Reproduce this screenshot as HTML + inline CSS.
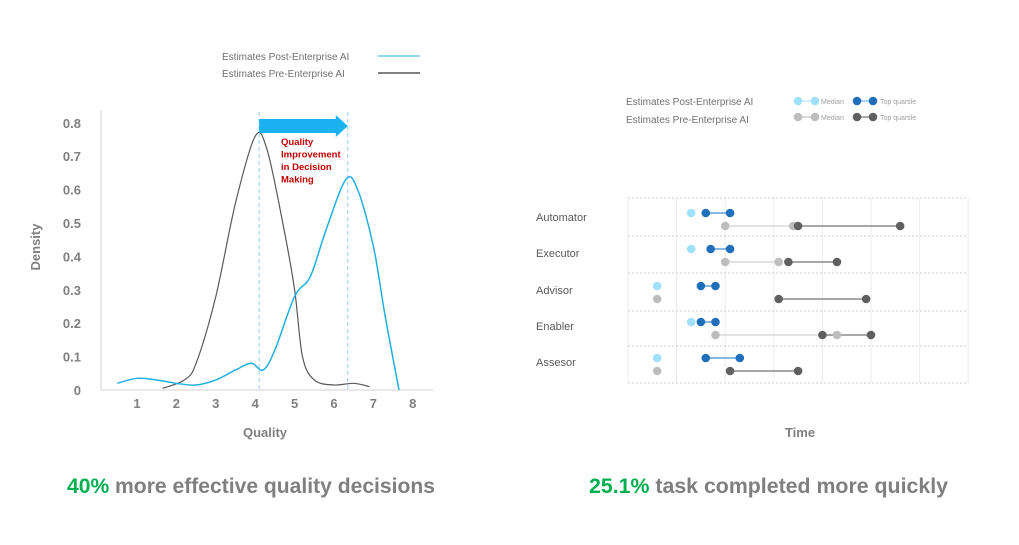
<!DOCTYPE html>
<html><head><meta charset="utf-8"><style>
body{margin:0;background:#fff;}
svg{display:block;font-family:"Liberation Sans",sans-serif;}
</style></head><body>
<svg id="root" width="1019" height="545" viewBox="0 0 1019 545">
<g id="left"></g>
<g id="right"></g>
<text x="67" y="493" font-size="21" font-weight="bold" textLength="368" lengthAdjust="spacingAndGlyphs"><tspan fill="#00b050">40%</tspan><tspan fill="#7f7f7f"> more effective quality decisions</tspan></text>
<text x="589" y="493" font-size="21" font-weight="bold" textLength="359" lengthAdjust="spacingAndGlyphs"><tspan fill="#00b050">25.1%</tspan><tspan fill="#7f7f7f"> task completed more quickly</tspan></text>
</svg>
<script>
// ---- Left chart data ----
const xTicks = [1,2,3,4,5,6,7,8];
const yTicks = [0,0.1,0.2,0.3,0.4,0.5,0.6,0.7,0.8];
const yTickLabels = ["0","0.1","0.2","0.3","0.4","0.5","0.6","0.7","0.8"];
const preX = [1.65,2.2,2.5,3,3.5,4,4.3,4.7,5,5.2,5.5,6,6.5,6.9];
const preY = [0.005,0.03,0.08,0.28,0.56,0.76,0.72,0.5,0.3,0.1,0.03,0.015,0.02,0.01];
const postX = [0.5,1,1.5,2,2.5,3,3.5,3.9,4.2,4.5,5,5.4,5.8,6.3,6.6,7,7.3,7.65];
const postY = [0.02,0.035,0.03,0.02,0.015,0.03,0.06,0.08,0.06,0.12,0.28,0.34,0.48,0.63,0.6,0.43,0.22,0];
const markers = [4.1,6.35];
// ---- Right chart data ----
const roles = ["Automator","Executor","Advisor","Enabler","Assesor"];
const postMedA = [1.3,1.3,0.6,1.3,0.6];
const postTopA = [1.6,1.7,1.5,1.5,1.6];
const postTopB = [2.1,2.1,1.8,1.8,2.3];
const preMedA = [2.0,2.0,0.6,1.8,0.6];
const preMedB = [3.4,3.1,null,4.3,null];
const preTopA = [3.5,3.3,3.1,4.0,2.1];
const preTopB = [5.6,4.3,4.9,5.0,3.5];

const NS="http://www.w3.org/2000/svg";
function mk(p,t,a,txt){const e=document.createElementNS(NS,t);for(const k in a)e.setAttribute(k,a[k]);if(txt!=null)e.textContent=txt;p.appendChild(e);return e;}

// Left
const L=document.getElementById('left');
const sx=v=>97.6+v*39.4, sy=v=>390-v*334;
let e;
e=mk(L,'line',{x1:101,y1:110,x2:101,y2:390,stroke:'#d0d0d0'});


e=mk(L,'line',{x1:101,y1:390,x2:433,y2:390,stroke:'#d0d0d0'});


xTicks.forEach(t=>{e=mk(L,'text',{x:sx(t),y:408,'text-anchor':'middle','font-size':13,'font-weight':'bold',fill:'#7f7f7f'},String(t));

});
yTicks.forEach((t,i)=>{e=mk(L,'text',{x:81,y:sy(t)+5,'text-anchor':'end','font-size':13,'font-weight':'bold',fill:'#7f7f7f'},yTickLabels[i]);

});
e=mk(L,'text',{x:265,y:437,'text-anchor':'middle','font-size':13,'font-weight':'bold',fill:'#7f7f7f'},'Quality');


e=mk(L,'text',{x:0,y:0,'text-anchor':'middle','font-size':13,'font-weight':'bold',fill:'#7f7f7f',transform:'translate(40,247) rotate(-90)'},'Density');


markers.forEach(m=>{e=mk(L,'line',{x1:sx(m),y1:112,x2:sx(m),y2:390,stroke:'#8fd0ee','stroke-dasharray':'4,3'});

});
function smooth(xs,ys){const p=xs.map((x,i)=>[sx(x),sy(ys[i])]);let d='M'+p[0][0]+','+p[0][1];
for(let i=0;i<p.length-1;i++){const p0=p[i-1]||p[i],p1=p[i],p2=p[i+1],p3=p[i+2]||p2;
d+=' C'+(p1[0]+(p2[0]-p0[0])/6)+','+(p1[1]+(p2[1]-p0[1])/6)+' '+(p2[0]-(p3[0]-p1[0])/6)+','+(p2[1]-(p3[1]-p1[1])/6)+' '+p2[0]+','+p2[1];}return d;}
e=mk(L,'path',{d:smooth(preX,preY),fill:'none',stroke:'#595959','stroke-width':1.2});


e=mk(L,'path',{d:smooth(postX,postY),fill:'none',stroke:'#1fb0e0','stroke-width':1.5});


const ax1=sx(markers[0]),ax2=sx(markers[1]);
e=mk(L,'path',{d:`M${ax1},119 H${ax2-12} V115 L${ax2},126 L${ax2-12},137 V133 H${ax1} Z`,fill:'#1ab2f0'});


['Quality','Improvement','in Decision','Making'].forEach((s,i)=>{e=mk(L,'text',{x:281,y:145+i*12.5,'font-size':9.5,'font-weight':'bold',fill:'#c00000'},s);

});
e=mk(L,'text',{x:222,y:60,'font-size':10,fill:'#707070'},'Estimates Post-Enterprise  AI');


e=mk(L,'line',{x1:378,y1:56,x2:420,y2:56,stroke:'#1fb0e0'});


e=mk(L,'text',{x:222,y:77,'font-size':10,fill:'#707070'},'Estimates Pre-Enterprise  AI');


e=mk(L,'line',{x1:378,y1:73,x2:420,y2:73,stroke:'#000'});



// Right
const R=document.getElementById('right');
const tx=v=>628+v*48.6;
const rowTop=[198,236,273,311,346,383];
for(let i=0;i<=7;i++){e=mk(R,'line',{x1:tx(i),y1:198,x2:tx(i),y2:383,stroke:'#ececec'});

}
rowTop.forEach(y=>{e=mk(R,'line',{x1:628,y1:y,x2:968,y2:y,stroke:'#cfcfcf','stroke-dasharray':'2,2'});

});
const dot=(x,y,c,n)=>{e=mk(R,'circle',{cx:x,cy:y,r:4.3,fill:c});

};
const seg=(a,b,y,c,n)=>{e=mk(R,'line',{x1:a,y1:y,x2:b,y2:y,stroke:c,'stroke-width':1.5});

};
roles.forEach((r,i)=>{
 const y1=[213,249,286,322,358][i], y2=y1+13;
 e=mk(R,'text',{x:536,y:y1+8,'font-size':11,fill:'#595959'},r);
 
 
 seg(tx(postTopA[i]),tx(postTopB[i]),y1,'#5fa0d8','post-top-line');
 dot(tx(postMedA[i]),y1,'#9fe0fa','post-median-dot');
 dot(tx(postTopA[i]),y1,'#1f6fba','post-top-dot');
 dot(tx(postTopB[i]),y1,'#1f6fba','post-top-dot');
 if(preMedB[i]!=null){seg(tx(preMedA[i]),tx(preMedB[i]),y2,'#d8d8d8','pre-median-line');}
 seg(tx(preTopA[i]),tx(preTopB[i]),y2,'#8c8c8c','pre-top-line');
 dot(tx(preMedA[i]),y2,'#bdbdbd','pre-median-dot');
 if(preMedB[i]!=null) dot(tx(preMedB[i]),y2,'#bdbdbd','pre-median-dot');
 dot(tx(preTopA[i]),y2,'#606060','pre-top-dot');
 dot(tx(preTopB[i]),y2,'#606060','pre-top-dot');
});
e=mk(R,'text',{x:800,y:437,'text-anchor':'middle','font-size':13,'font-weight':'bold',fill:'#7f7f7f'},'Time');


e=mk(R,'text',{x:626,y:105,'font-size':10,fill:'#707070'},'Estimates Post-Enterprise  AI');


e=mk(R,'text',{x:626,y:123,'font-size':10,fill:'#707070'},'Estimates Pre-Enterprise  AI');


[[101,'#bfeafb','#9fe0fa','#8fc3ea','#1f6fba'],[117,'#d0d0d0','#bdbdbd','#8c8c8c','#606060']].forEach(([y,lc,dc,tl,td])=>{
 seg(798,815,y,lc,'legend-median-line');dot(798,y,dc,'legend-median-dot');dot(815,y,dc,'legend-median-dot');
 e=mk(R,'text',{x:821,y:y+3,'font-size':7,fill:'#a0a0a0'},'Median');
 
 
 seg(857,873,y,tl,'legend-top-line');dot(857,y,td,'legend-top-dot');dot(873,y,td,'legend-top-dot');
 e=mk(R,'text',{x:880,y:y+3,'font-size':7,fill:'#a0a0a0'},'Top quartile');
 
 
});
</script>
</body></html>
